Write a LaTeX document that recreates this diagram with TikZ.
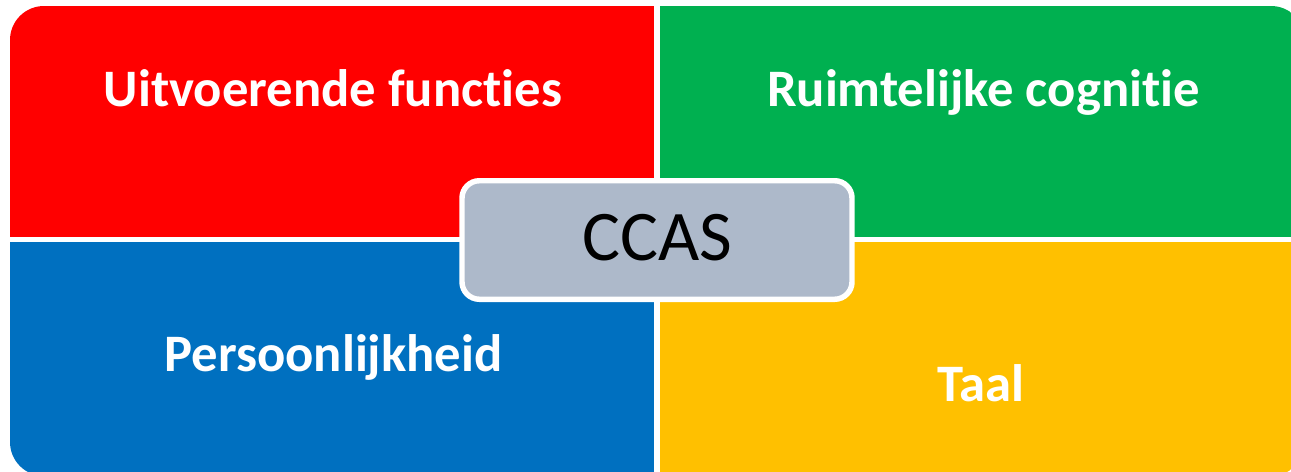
\documentclass[tikz,border=0pt]{standalone}
\usepackage{fontspec}
\setmainfont{Carlito}[RawFeature=-liga]
\usetikzlibrary{positioning}

\definecolor{qred}{HTML}{FF0000}
\definecolor{qgreen}{HTML}{00B050}
\definecolor{qblue}{HTML}{0070C0}
\definecolor{qyellow}{HTML}{FFC000}
\definecolor{qgray}{HTML}{ADB9CA}

\tikzset{
  quadtext/.style={text=white, anchor=base, inner sep=0pt, font=\fontsize{39.5}{44}\selectfont\bfseries},
}

\begin{document}
\begin{tikzpicture}[x=0.75pt, y=-0.75pt]
  \useasboundingbox (0,0) rectangle (1291,471);

  \begin{scope}
    \clip[rounded corners=25.5pt] (10,6) rectangle (1305,476);
    \fill[qred] (0,0) rectangle (654,237);
    \fill[qgreen] (660,0) rectangle (1320,237);
    \fill[qblue] (0,242) rectangle (654,490);
    \fill[qyellow] (660,242) rectangle (1320,490);
  \end{scope}

  \node[quadtext] (uitv) at (333,106.7) {Uitvoerende functies};
  \node[quadtext] (ruimt) at (983.5,106.7) {Ruimtelijke cognitie};
  \node[quadtext] (pers) at (333.5,371.7) {Persoonlijkheid};
  \node[quadtext] (taal) at (980.5,401.7) {Taal};

  \node[draw=white, line width=4.1pt, fill=qgray, rounded corners=13pt,
        minimum width=292.5pt, minimum height=88.9pt, inner sep=0pt] (box) at (657,240) {};
  \node[anchor=base, inner sep=0pt, font=\fontsize{53.4}{60}\selectfont] (ccas) at (657.5,260) {CCAS};
\end{tikzpicture}
\end{document}
